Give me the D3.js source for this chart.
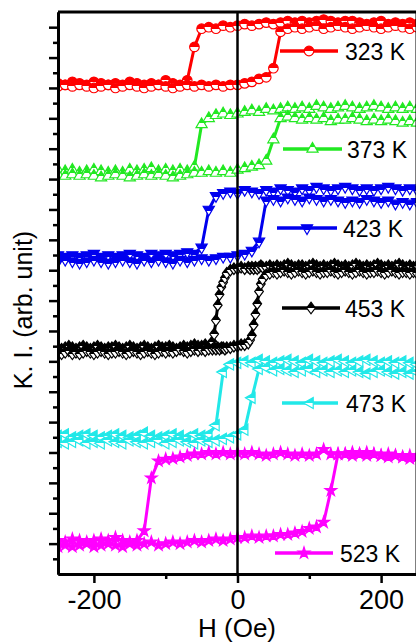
<!DOCTYPE html>
<html>
<head>
<meta charset="utf-8">
<script src="https://cdn.jsdelivr.net/npm/d3@7"></script>
<style>
  body { margin: 0; background: #fff; }
  svg { display: block; font-family: Arial, "Liberation Sans", sans-serif; }
</style>
</head>
<body>
<div id="chart"></div>
<script>
// field sweep (Oe) shared by most loops
var fieldH = [-250, -240, -230, -220, -210, -200, -190, -180, -170, -160,
              -150, -140, -130, -120, -110, -100, -90, -80, -70, -60,
              -50, -40, -30, -20, -10, 0, 10, 20, 30, 40,
              50, 60, 70, 80, 90, 100, 110, 120, 130, 140,
              150, 160, 170, 180, 190, 200, 210, 220, 230, 240, 250];

// 453 K was measured with a finer step around the switching fields
var fieldH453 = [-250, -245, -240, -235, -230, -225, -220, -215, -210, -205,
                 -200, -195, -190, -185, -180, -175, -170, -165, -160, -155,
                 -150, -145, -140, -135, -130, -125, -120, -115, -110, -105,
                 -100, -95, -90, -85, -80, -75, -70, -65, -60, -55,
                 -50, -45, -40,
                 -35, -32.5, -30, -27.5, -25, -22.5, -20, -17.5, -15,
                 -10, -5, 0, 5, 10,
                 15, 17.5, 20, 22.5, 25, 27.5, 30, 32.5, 35,
                 40, 45, 50, 55, 60, 65, 70, 75, 80, 85,
                 90, 95, 100, 105, 110, 115, 120, 125, 130, 135,
                 140, 145, 150, 155, 160, 165, 170, 175, 180, 185,
                 190, 195, 200, 205, 210, 215, 220, 225, 230, 235,
                 240, 245, 250];

var temps = ["323 K", "373 K", "423 K", "453 K", "473 K", "523 K"];
var colors = ["#ff0000", "#22e822", "#0000ee", "#000000", "#22e8e8", "#ff00ff"];

// K. I. (arb. unit), curves are stacked with offsets as in the figure
// dec = branch coming down from +H, asc = branch going up from -H
var ki323dec = [16.15, 16.10, 16.20, 16.15, 16.10, 16.20, 16.15, 16.10, 16.15, 16.10,
                16.20, 16.15, 16.10, 16.15, 16.10, 16.25, 16.15, 16.10, 16.25, 17.35,
                17.95, 18.00, 17.95, 18.05, 18.00, 18.05, 18.10, 18.05, 18.10, 18.15,
                18.10, 18.15, 18.20, 18.15, 18.20, 18.15, 18.20, 18.25, 18.20, 18.15,
                18.20, 18.20, 18.15, 18.10, 18.15, 18.20, 18.10, 18.15, 18.10, 18.15, 18.10];
var ki323asc = [16.05, 16.10, 16.05, 16.10, 16.05, 16.00, 16.05, 16.10, 16.00, 16.05,
                16.10, 16.05, 16.00, 16.05, 16.10, 16.05, 16.00, 16.05, 16.10, 16.05,
                16.10, 16.05, 16.10, 16.05, 16.10, 16.10, 16.15, 16.20, 16.30, 16.35,
                16.65, 17.85, 17.95, 18.00, 17.95, 18.00, 18.05, 17.95, 18.00, 18.05,
                18.00, 17.95, 18.00, 18.05, 18.00, 17.95, 18.00, 18.05, 18.00, 17.95, 18.00];

var ki373dec = [13.30, 13.25, 13.30, 13.20, 13.25, 13.30, 13.25, 13.20, 13.25, 13.20,
                13.30, 13.25, 13.30, 13.35, 13.25, 13.30, 13.25, 13.30, 13.25, 13.40,
                14.80, 15.00, 15.10, 15.15, 15.10, 15.15, 15.20, 15.25, 15.20, 15.30,
                15.25, 15.30, 15.35, 15.30, 15.35, 15.30, 15.40, 15.35, 15.30, 15.35,
                15.40, 15.35, 15.30, 15.35, 15.40, 15.35, 15.30, 15.35, 15.30, 15.35, 15.30];
var ki373asc = [13.15, 13.10, 13.15, 13.10, 13.15, 13.10, 13.05, 13.10, 13.15, 13.10,
                13.05, 13.10, 13.15, 13.10, 13.15, 13.10, 13.05, 13.10, 13.15, 13.20,
                13.20, 13.25, 13.20, 13.25, 13.20, 13.30, 13.35, 13.40, 13.45, 13.60,
                14.30, 15.00, 15.05, 15.00, 14.95, 15.00, 14.95, 15.00, 14.90, 14.95,
                14.95, 15.00, 14.95, 14.90, 14.95, 14.90, 14.95, 14.90, 14.85, 14.90, 14.85];

var ki423dec = [10.50, 10.45, 10.50, 10.45, 10.50, 10.55, 10.45, 10.50, 10.45, 10.50,
                10.55, 10.50, 10.45, 10.55, 10.50, 10.55, 10.50, 10.55, 10.60, 10.55,
                10.75, 12.00, 12.45, 12.55, 12.60, 12.55, 12.65, 12.60, 12.55, 12.65,
                12.60, 12.70, 12.65, 12.60, 12.70, 12.65, 12.75, 12.70, 12.65, 12.70,
                12.75, 12.70, 12.65, 12.70, 12.65, 12.70, 12.75, 12.70, 12.65, 12.70, 12.65];
var ki423asc = [10.30, 10.35, 10.30, 10.25, 10.30, 10.35, 10.30, 10.25, 10.30, 10.35,
                10.30, 10.25, 10.35, 10.30, 10.35, 10.30, 10.25, 10.35, 10.30, 10.35,
                10.40, 10.35, 10.40, 10.45, 10.45, 10.50, 10.55, 10.65, 10.95, 12.30,
                12.35, 12.30, 12.40, 12.35, 12.30, 12.40, 12.35, 12.30, 12.35, 12.30,
                12.25, 12.30, 12.25, 12.35, 12.30, 12.25, 12.30, 12.20, 12.25, 12.20, 12.25];

var ki453dec = [7.45, 7.40, 7.45, 7.50, 7.45, 7.40, 7.45, 7.50, 7.45, 7.40,
                7.45, 7.50, 7.45, 7.40, 7.45, 7.45, 7.50, 7.45, 7.40, 7.45,
                7.50, 7.45, 7.40, 7.45, 7.50, 7.45, 7.40, 7.45, 7.50, 7.45,
                7.45, 7.50, 7.45, 7.40, 7.45, 7.50, 7.45, 7.50, 7.55, 7.50,
                7.50, 7.55, 7.50,
                7.65, 7.90, 8.35, 8.85, 9.20, 9.45, 9.60, 9.75, 9.90,
                10.00, 10.05, 10.05, 10.10, 10.05,
                10.10, 10.05, 10.10, 10.05, 10.10, 10.05, 10.10, 10.15, 10.10,
                10.10, 10.15, 10.10, 10.15, 10.10, 10.15, 10.20, 10.15, 10.10, 10.15,
                10.15, 10.10, 10.15, 10.20, 10.15, 10.10, 10.15, 10.10, 10.15, 10.20,
                10.15, 10.10, 10.15, 10.10, 10.15, 10.20, 10.15, 10.10, 10.15, 10.10,
                10.15, 10.20, 10.15, 10.10, 10.15, 10.10, 10.15, 10.20, 10.15, 10.10,
                10.15, 10.10, 10.15];
var ki453asc = [7.30, 7.25, 7.30, 7.35, 7.25, 7.30, 7.25, 7.30, 7.35, 7.30,
                7.25, 7.30, 7.35, 7.30, 7.25, 7.30, 7.30, 7.35, 7.30, 7.25,
                7.30, 7.35, 7.30, 7.25, 7.30, 7.35, 7.30, 7.25, 7.30, 7.35,
                7.30, 7.35, 7.30, 7.35, 7.40, 7.35, 7.30, 7.35, 7.40, 7.35,
                7.40, 7.35, 7.40,
                7.40, 7.45, 7.40, 7.45, 7.40, 7.45, 7.45, 7.40, 7.45,
                7.45, 7.50, 7.50, 7.55, 7.55,
                7.60, 7.70, 7.85, 8.20, 8.55, 8.90, 9.30, 9.55, 9.70,
                9.85, 9.90, 9.95, 9.90, 9.95, 10.00, 9.95, 9.90, 9.95, 10.00,
                9.95, 9.90, 9.95, 10.00, 9.95, 9.90, 9.95, 9.95, 10.00, 9.95,
                9.90, 9.95, 10.00, 9.95, 9.90, 9.95, 10.00, 9.95, 9.90, 9.95,
                9.95, 10.00, 9.95, 9.90, 9.95, 10.00, 9.95, 9.90, 9.95, 9.95,
                9.90, 9.95, 9.90];

var ki473dec = [4.55, 4.60, 4.50, 4.55, 4.60, 4.55, 4.50, 4.55, 4.60, 4.55,
                4.50, 4.55, 4.65, 4.55, 4.50, 4.55, 4.60, 4.55, 4.50, 4.60,
                4.55, 4.60, 4.90, 6.65, 6.90, 6.95, 7.00, 6.95, 7.05, 7.00,
                6.95, 7.00, 7.05, 7.00, 6.95, 7.05, 7.00, 6.95, 7.00, 7.05,
                7.00, 6.95, 7.00, 7.05, 7.00, 6.95, 7.00, 6.95, 7.00, 6.95, 6.90];
var ki473asc = [4.35, 4.30, 4.35, 4.40, 4.30, 4.35, 4.30, 4.40, 4.35, 4.30,
                4.40, 4.35, 4.30, 4.35, 4.40, 4.30, 4.35, 4.40, 4.35, 4.30,
                4.40, 4.35, 4.40, 4.45, 4.50, 4.60, 4.75, 5.80, 6.75, 6.80,
                6.70, 6.75, 6.70, 6.65, 6.70, 6.75, 6.65, 6.70, 6.65, 6.70,
                6.65, 6.70, 6.65, 6.60, 6.65, 6.70, 6.65, 6.60, 6.65, 6.60, 6.65];

var ki523dec = [1.10, 1.05, 1.15, 1.10, 1.05, 1.10, 1.15, 1.10, 1.20, 1.10,
                1.05, 1.10, 1.42, 3.16, 3.72, 3.78, 3.80, 3.85, 3.90, 3.95,
                3.95, 4.00, 3.95, 4.00, 3.95, 4.00, 3.95, 4.00, 3.95, 3.90,
                3.95, 4.00, 3.95, 3.90, 3.95, 3.90, 3.95, 4.10, 3.95, 3.95,
                3.95, 4.00, 3.95, 4.00, 3.95, 3.90, 3.95, 3.90, 3.85, 3.90, 3.85];
var ki523asc = [0.90, 0.95, 0.90, 0.95, 1.00, 0.90, 0.95, 1.00, 0.95, 0.90,
                1.00, 0.95, 1.00, 1.05, 0.95, 1.00, 1.05, 1.00, 1.05, 1.10,
                1.05, 1.10, 1.15, 1.10, 1.15, 1.20, 1.20, 1.25, 1.20, 1.25,
                1.25, 1.30, 1.30, 1.35, 1.40, 1.50, 1.55, 1.70, 2.75, 3.95,
                3.95, 3.90, 3.95, 3.90, 3.95, 3.90, 3.85, 3.90, 3.85, 3.80, 3.85];

var xTicks = [-200, 0, 200];
var xMinor = [-100, 100];

var W = 416, H = 643;
var mLeft = 58, mRight = 417, mTop = 12, mBottom = 574;

// custom marker shapes (so the half fill gradient stays "top half")
var triDown = {
    draw: function(ctx, size) {
        var r = Math.sqrt(size / (3 * Math.sqrt(3)));
        ctx.moveTo(0, 2 * r);
        ctx.lineTo(-Math.sqrt(3) * r, -r);
        ctx.lineTo(Math.sqrt(3) * r, -r);
        ctx.closePath();
    }
};
var triLeft = {
    draw: function(ctx, size) {
        var r = Math.sqrt(size / (3 * Math.sqrt(3)));
        ctx.moveTo(-2 * r, 0);
        ctx.lineTo(r, -Math.sqrt(3) * r);
        ctx.lineTo(r, Math.sqrt(3) * r);
        ctx.closePath();
    }
};
var diamond = {
    draw: function(ctx, size) {
        var h = Math.sqrt(size) * 0.85, w = h * 0.75;
        ctx.moveTo(0, -h);
        ctx.lineTo(w, 0);
        ctx.lineTo(0, h);
        ctx.lineTo(-w, 0);
        ctx.closePath();
    }
};

var series = [
    { h: fieldH, dec: ki323dec, asc: ki323asc, sym: d3.symbolCircle, size: 72, half: true },
    { h: fieldH, dec: ki373dec, asc: ki373asc, sym: d3.symbolTriangle, size: 54, half: true },
    { h: fieldH, dec: ki423dec, asc: ki423asc, sym: triDown, size: 54, half: true },
    { h: fieldH453, dec: ki453dec, asc: ki453asc, sym: diamond, size: 46, half: true },
    { h: fieldH, dec: ki473dec, asc: ki473asc, sym: triLeft, size: 54, half: true },
    { h: fieldH, dec: ki523dec, asc: ki523asc, sym: d3.symbolStar, size: 42, half: false }
];

// legend placement (px)
var legendPos = [
    { y: 51, x1: 280, x2: 338, tx: 345 },
    { y: 149, x1: 283, x2: 342, tx: 347 },
    { y: 228, x1: 277, x2: 337, tx: 343 },
    { y: 308, x1: 282, x2: 340, tx: 345 },
    { y: 403, x1: 282, x2: 338, tx: 346 },
    { y: 553, x1: 275, x2: 333, tx: 340 }
];

var svg = d3.select("#chart").append("svg")
    .attr("width", W)
    .attr("height", H);

var defs = svg.append("defs");
colors.forEach(function(c, i) {
    var g = defs.append("linearGradient")
        .attr("id", "half" + i)
        .attr("x1", 0).attr("y1", 0).attr("x2", 0).attr("y2", 1);
    g.append("stop").attr("offset", 0.5).attr("stop-color", c);
    g.append("stop").attr("offset", 0.5).attr("stop-color", "#fff");
});

var x = d3.scaleLinear().domain([-250, 250]).range([mLeft, mRight]);
var y = d3.scaleLinear().domain([0, 18.5]).range([mBottom, mTop]);

var clip = defs.append("clipPath").attr("id", "plotclip");
clip.append("rect").attr("x", mLeft).attr("y", mTop - 4)
    .attr("width", mRight - mLeft).attr("height", mBottom - mTop + 4);

var plot = svg.append("g").attr("clip-path", "url(#plotclip)");

var line = d3.line()
    .x(function(d) { return x(d[0]); })
    .y(function(d) { return y(d[1]); });

series.forEach(function(s, i) {
    var branches = [s.dec, s.asc].map(function(vals) {
        return s.h.map(function(h, k) { return [h, vals[k]]; });
    });
    var g = plot.append("g");
    branches.forEach(function(pts) {
        g.append("path")
            .datum(pts)
            .attr("fill", "none")
            .attr("stroke", colors[i])
            .attr("stroke-width", 3)
            .attr("d", line);
    });
    var symbol = d3.symbol().type(s.sym).size(s.size);
    branches.forEach(function(pts) {
        g.selectAll(null)
            .data(pts)
            .enter()
            .append("path")
            .attr("transform", function(d) { return "translate(" + x(d[0]) + "," + y(d[1]) + ")"; })
            .attr("d", symbol)
            .attr("fill", s.half ? "url(#half" + i + ")" : colors[i])
            .attr("stroke", colors[i])
            .attr("stroke-width", 1.2);
    });
});

// zero field line
svg.append("line")
    .attr("x1", x(0)).attr("x2", x(0))
    .attr("y1", mTop).attr("y2", mBottom)
    .attr("stroke", "#000")
    .attr("stroke-width", 2.5);

// frame
svg.append("line")
    .attr("x1", mLeft).attr("x2", mRight)
    .attr("y1", mTop).attr("y2", mTop)
    .attr("stroke", "#000").attr("stroke-width", 3);
svg.append("line")
    .attr("x1", mRight).attr("x2", mRight)
    .attr("y1", mTop).attr("y2", mBottom)
    .attr("stroke", "#000").attr("stroke-width", 3);

// y axis, no labels
var yMajor = d3.range(1, 19);
var yMinor = d3.range(0.5, 18, 1);
svg.append("g")
    .attr("class", "axis")
    .attr("transform", "translate(" + mLeft + ",0)")
    .call(d3.axisLeft(y).tickValues(yMinor).tickSize(5).tickSizeOuter(0).tickFormat(""));
svg.append("g")
    .attr("class", "axis")
    .attr("transform", "translate(" + mLeft + ",0)")
    .call(d3.axisLeft(y).tickValues(yMajor).tickSize(9).tickSizeOuter(0).tickFormat(""));

// x axis
svg.append("g")
    .attr("class", "axis")
    .attr("transform", "translate(0," + mBottom + ")")
    .call(d3.axisBottom(x).tickValues(xMinor).tickSize(5).tickSizeOuter(0).tickFormat(""));
svg.append("g")
    .attr("class", "axis xmain")
    .attr("transform", "translate(0," + mBottom + ")")
    .call(d3.axisBottom(x).tickValues(xTicks).tickSize(9).tickPadding(7).tickSizeOuter(0)
        .tickFormat(function(d) { return String(d); }));

svg.selectAll(".axis .domain").attr("stroke", "#000").attr("stroke-width", 3);
svg.selectAll(".axis .tick line").attr("stroke", "#000").attr("stroke-width", 2.5);
svg.selectAll(".xmain text")
    .attr("font-size", 27)
    .attr("font-family", "Arial, 'Liberation Sans', sans-serif")
    .attr("fill", "#000");

// axis titles
svg.append("text")
    .attr("x", 237)
    .attr("y", 637)
    .attr("text-anchor", "middle")
    .attr("font-size", 26)
    .text("H (Oe)");

svg.append("text")
    .attr("transform", "translate(32,310) rotate(-90)")
    .attr("text-anchor", "middle")
    .attr("font-size", 25)
    .text("K. I. (arb. unit)");

// legends
series.forEach(function(s, i) {
    var p = legendPos[i];
    svg.append("line")
        .attr("x1", p.x1).attr("x2", p.x2)
        .attr("y1", p.y).attr("y2", p.y)
        .attr("stroke", colors[i])
        .attr("stroke-width", 3.5);
    svg.append("path")
        .attr("transform", "translate(" + ((p.x1 + p.x2) / 2) + "," + p.y + ")")
        .attr("d", d3.symbol().type(s.sym).size(s.size)())
        .attr("fill", s.half ? "url(#half" + i + ")" : colors[i])
        .attr("stroke", colors[i])
        .attr("stroke-width", 1.2);
    svg.append("text")
        .attr("x", p.tx)
        .attr("y", p.y + 9)
        .attr("font-size", 23)
        .text(temps[i]);
});
</script>
</body>
</html>
